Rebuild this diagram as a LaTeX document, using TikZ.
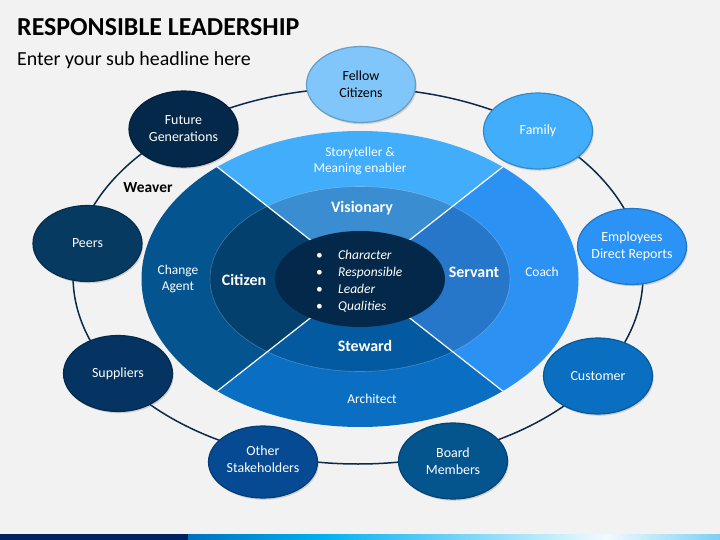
\documentclass[tikz,border=0pt]{standalone}
\usepackage{fontspec}
\setmainfont{Carlito}
\usetikzlibrary{shapes.geometric,shadows}

\definecolor{slidebg}{HTML}{F2F2F2}
\definecolor{ringline}{HTML}{0B2A4A}
\definecolor{outtop}{HTML}{41ADFB}
\definecolor{outright}{HTML}{2B92F4}
\definecolor{outbottom}{HTML}{0A6FC2}
\definecolor{outleft}{HTML}{03548F}
\definecolor{midtop}{HTML}{398DD0}
\definecolor{midright}{HTML}{2677C9}
\definecolor{midbottom}{HTML}{045AA0}
\definecolor{midleft}{HTML}{03406E}
\definecolor{core}{HTML}{03284A}
\definecolor{barnavy}{HTML}{03215F}
\definecolor{barblue}{HTML}{0070C0}
\definecolor{barcyan}{HTML}{00B0F0}
\definecolor{barwhite}{HTML}{F2FAFE}
\definecolor{barlight}{HTML}{7CCFF2}
\definecolor{fellowc}{HTML}{80C6FA}
\definecolor{familyc}{HTML}{41ADFB}
\definecolor{employc}{HTML}{2B93F5}
\definecolor{customc}{HTML}{0A6FC0}
\definecolor{boardc}{HTML}{04548E}
\definecolor{otherc}{HTML}{054A92}
\definecolor{supplyc}{HTML}{053462}
\definecolor{peersc}{HTML}{063A60}
\definecolor{futurec}{HTML}{032849}

\begin{document}
\begin{tikzpicture}[x=1bp, y=-1bp,
    circ/.style={ellipse, fill=#1, draw=#1!80!black, line width=1.2bp,
        minimum width=109bp, minimum height=76bp, inner sep=0pt,
        drop shadow={opacity=0.3, shadow xshift=1.2bp, shadow yshift=-1.8bp}},
    ctext/.style={text=white, align=center, font=\fontsize{14}{17}\selectfont},
    role/.style={text=white, align=center, font=\fontsize{13.5}{17}\selectfont},
    trait/.style={text=white, font=\bfseries\fontsize{16}{19}\selectfont},
    divider/.style={draw=white, line width=1.2bp}]

    % background and title
    \useasboundingbox (0,0) rectangle (720,540);
    \fill[slidebg] (0,0) rectangle (720,540);
    \node[anchor=base west, inner sep=0pt, font=\bfseries\fontsize{26}{30}\selectfont] (title) at (17,36) {RESPONSIBLE LEADERSHIP};
    \node[anchor=base west, inner sep=0pt, font=\fontsize{20}{24}\selectfont] (sub) at (17,66) {Enter your sub headline here};

    % bottom bar
    \fill[barnavy] (0,534) rectangle (188,540);
    \shade[left color=barblue, right color=barcyan] (188,534) rectangle (321,540);
    \shade[left color=barcyan, right color=barwhite] (321,534) rectangle (606,540);
    \shade[left color=barwhite, right color=barlight] (606,534) rectangle (720,540);

    % ring behind the circles
    \draw[draw=ringline, line width=1.5bp] (358,276) ellipse [x radius=285, y radius=188];

    % sectors
    \coordinate (c) at (360,279);
    \begin{scope}
        \clip (c) -- ++(-400,-314) -- ++(800,0) -- cycle;
        \fill[outtop] (c) ellipse [x radius=218.5, y radius=148];
        \fill[midtop] (c) ellipse [x radius=150, y radius=92.5];
    \end{scope}
    \begin{scope}
        \clip (c) -- ++(400,-314) -- ++(0,628) -- cycle;
        \fill[outright] (c) ellipse [x radius=218.5, y radius=148];
        \fill[midright] (c) ellipse [x radius=150, y radius=92.5];
    \end{scope}
    \begin{scope}
        \clip (c) -- ++(400,314) -- ++(-800,0) -- cycle;
        \fill[outbottom] (c) ellipse [x radius=218.5, y radius=148];
        \fill[midbottom] (c) ellipse [x radius=150, y radius=92.5];
    \end{scope}
    \begin{scope}
        \clip (c) -- ++(-400,314) -- ++(0,-628) -- cycle;
        \fill[outleft] (c) ellipse [x radius=218.5, y radius=148];
        \fill[midleft] (c) ellipse [x radius=150, y radius=92.5];
    \end{scope}
    \draw[white, opacity=0.25, line width=0.6bp] (c) ellipse [x radius=150, y radius=92.5];
    \begin{scope}
        \clip (c) ellipse [x radius=218.5, y radius=148];
        \draw[divider] (c) -- ++(-400,-314);
        \draw[divider] (c) -- ++(400,-314);
        \draw[divider] (c) -- ++(400,314);
        \draw[divider] (c) -- ++(-400,314);
    \end{scope}
    \fill[core] (c) ellipse [x radius=85, y radius=48];

    % labels on the sectors
    \node[role] (story) at (360,161) {Storyteller \&\\Meaning enabler};
    \node[role] (change) at (178,279) {Change\\Agent};
    \node[role] (coach) at (542,272) {Coach};
    \node[role] (arch) at (372,399) {Architect};
    \node[trait] (vision) at (362,208) {Visionary};
    \node[trait] (citizen) at (244,280) {Citizen};
    \node[trait] (servant) at (474,272) {Servant};
    \node[trait] (steward) at (365,346) {Steward};
    \node[anchor=west, inner sep=0pt, text=white, align=left, font=\itshape\fontsize{13.5}{17}\selectfont] (qual) at (316,281)
        {\makebox[22bp][l]{\upshape•}Character\\\makebox[22bp][l]{\upshape•}Responsible\\\makebox[22bp][l]{\upshape•}Leader\\\makebox[22bp][l]{\upshape•}Qualities};
    \node[font=\bfseries\fontsize{15.5}{18}\selectfont] (weaver) at (148,188) {Weaver};

    % stakeholders on the ring
    \node[circ=fellowc, label={[ctext, text=black]center:Fellow\\Citizens}] (fellow) at (361,84.5) {};
    \node[circ=familyc, label={[ctext]center:Family}] (family) at (538,131) {};
    \node[circ=employc, label={[ctext]center:Employees\\Direct Reports}] (employees) at (632,246.5) {};
    \node[circ=customc, label={[ctext]center:Customer}] (customer) at (598,376) {};
    \node[circ=boardc, label={[ctext]center:Board\\Members}] (board) at (453,461) {};
    \node[circ=otherc, minimum height=72bp, label={[ctext, yshift=3bp]center:Other\\Stakeholders}] (others) at (263,462) {};
    \node[circ=supplyc, label={[ctext]center:Suppliers}] (suppliers) at (118,373.5) {};
    \node[circ=peersc, label={[ctext]center:Peers}] (peers) at (87.5,243.5) {};
    \node[circ=futurec, label={[ctext]center:Future\\Generations}] (future) at (183.5,129) {};

\end{tikzpicture}
\end{document}
